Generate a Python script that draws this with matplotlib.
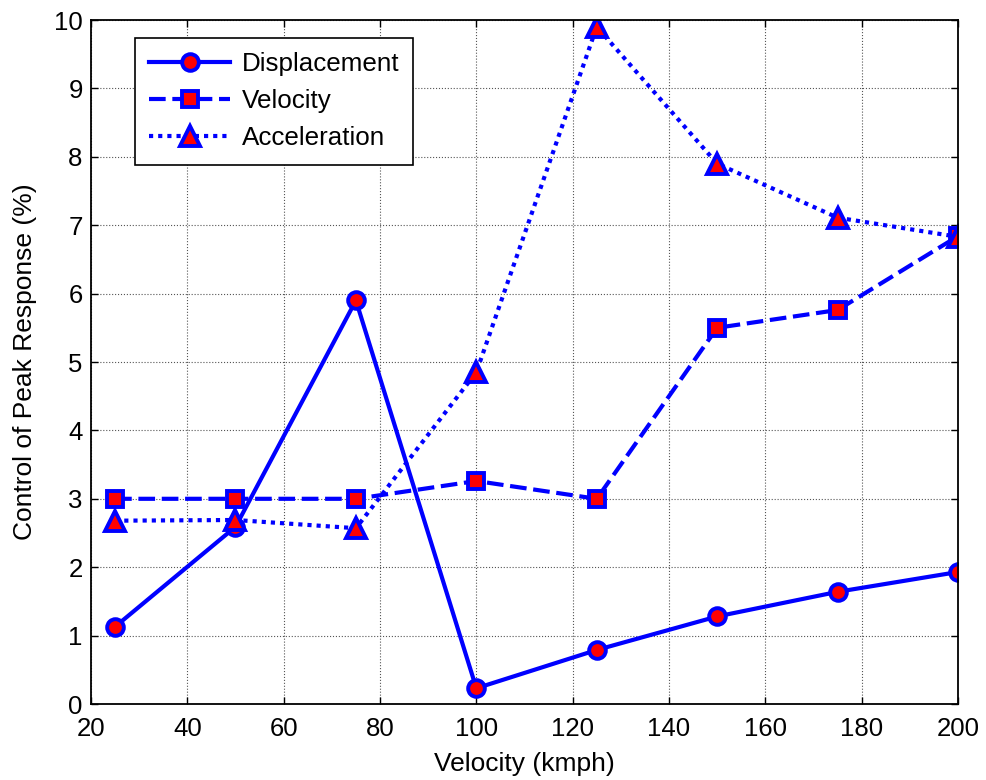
import numpy as np
import matplotlib
matplotlib.use('Agg')
import matplotlib.pyplot as plt

plt.rcParams['font.family'] = ['Liberation Sans', 'DejaVu Sans']

speed = [25, 50, 75, 100, 125, 150, 175, 200]
displacement = [1.13, 2.59, 5.90, 0.23, 0.79, 1.28, 1.64, 1.93]
velocity = [3.00, 3.00, 3.00, 3.26, 3.00, 5.50, 5.76, 6.84]
acceleration = [2.68, 2.69, 2.57, 4.85, 9.90, 7.90, 7.11, 6.83]

xticks = [20, 40, 60, 80, 100, 120, 140, 160, 180, 200]
yticks = [0, 1, 2, 3, 4, 5, 6, 7, 8, 9, 10]


def main():
    fig = plt.figure(figsize=(9.87, 7.8), dpi=100)
    ax = fig.add_axes([91 / 987, 1 - 704 / 780, 867 / 987, 684 / 780])

    style = dict(color='blue', lw=3.0, mfc='red', mec='blue', mew=2.8)
    ax.plot(speed, displacement, '-o', ms=12, label='Displacement', **style)
    ax.plot(speed, velocity, '--s', ms=12, label='Velocity',
            dashes=(4, 1.6), **style)
    ax.plot(speed, acceleration, ':^', ms=14, label='Acceleration',
            dashes=(1, 1.2), **style)

    ax.set_xlim(20, 200)
    ax.set_ylim(0, 10)
    ax.set_xticks(xticks)
    ax.set_yticks(yticks)
    ax.tick_params(direction='in', top=True, right=True, labelsize=18.5,
                   length=5, width=1)
    ax.tick_params(axis='x', pad=9)
    ax.tick_params(axis='y', pad=6)
    ax.grid(True, color='#555555', ls=':', lw=0.8)
    for sp in ax.spines.values():
        sp.set_linewidth(1.3)

    ax.set_xlabel('Velocity (kmph)', fontsize=19, labelpad=8)
    ax.set_ylabel('Control of Peak Response (%)', fontsize=19, labelpad=12)

    leg = ax.legend(loc='upper left', bbox_to_anchor=(44 / 867, 1 - 18 / 684),
                    borderaxespad=0, fontsize=18.7, fancybox=False,
                    framealpha=1, edgecolor='black', handlelength=3.1,
                    borderpad=0.55, labelspacing=0.5, handletextpad=0.45)
    leg.get_frame().set_linewidth(1.2)

    fig.savefig('out.png', dpi=100)


if __name__ == '__main__':
    main()
